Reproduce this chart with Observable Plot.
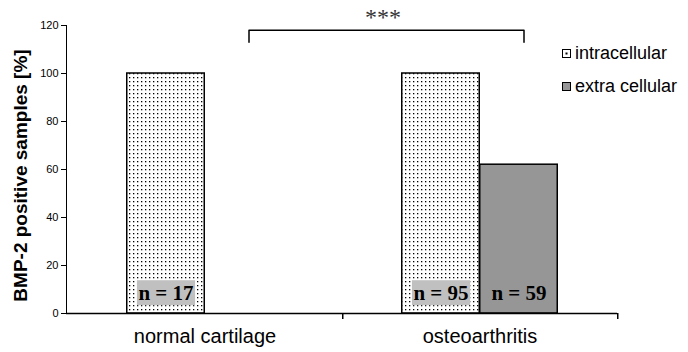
<!DOCTYPE html>
<html><head><meta charset="utf-8">
<script src="https://cdn.jsdelivr.net/npm/d3@7"></script>
<script src="https://cdn.jsdelivr.net/npm/@observablehq/plot@0.6"></script>
<style>
body{margin:0;background:#fff;}
#wrap{position:relative;width:688px;height:352px;font-family:"Liberation Sans",Arial,sans-serif;}
.lg{position:absolute;left:562px;font-size:18px;color:#000;display:flex;align-items:center;height:20px;white-space:nowrap;}
.lg svg{margin-right:4px;display:block}
</style></head><body><div id="wrap"></div>
<script>
const categories = ["normal cartilage", "osteoarthritis"];
const seriesNames = ["intracellular", "extra cellular"];
const intracellular = [100, 100];
const extraCellular = [null, 62];
const nIntracellular = ["n = 17", "n = 95"];
const nExtraCellular = [null, "n = 59"];
const yTicks = [0, 20, 40, 60, 80, 100, 120];
const yLabel = "BMP-2 positive samples [%]";
const significance = "***";
const bracketPair = ["normal cartilage", "osteoarthritis"];
const bracketLevels = [113, 118];

const intraRows = categories.map((c, i) => ({category: c, value: intracellular[i], n: nIntracellular[i]}));
const extraRows = categories.map((c, i) => ({category: c, value: extraCellular[i], n: nExtraCellular[i]})).filter(d => d.value != null);
const bracket = [
  {category: bracketPair[0], y: bracketLevels[0]},
  {category: bracketPair[0], y: bracketLevels[1]},
  {category: bracketPair[1], y: bracketLevels[1]},
  {category: bracketPair[1], y: bracketLevels[0]}
];
const sigRows = [{category: bracketPair[0], y: bracketLevels[1], label: significance}];

const W = 688, H = 352, mL = 66, mR = 71, mT = 25, mB = 39;
const band = (W - mL - mR) / categories.length;
const half = band / 2;
const barW = 78;
const serif = "Liberation Serif, Times New Roman, serif";

const defs = () => {
  const d = d3.create("svg:defs");
  const p = d.append("pattern").attr("id", "dots").attr("patternUnits", "userSpaceOnUse").attr("width", 4).attr("height", 4);
  p.append("rect").attr("width", 4).attr("height", 4).attr("fill", "#fff");
  p.append("rect").attr("x", 1).attr("y", 1).attr("width", 1.3).attr("height", 1.3).attr("fill", "#000");
  return d.node();
};

const chart = Plot.plot({
  width: W, height: H, marginLeft: mL, marginRight: mR, marginTop: mT, marginBottom: mB,
  style: {fontFamily: "Liberation Sans, Arial, sans-serif", fontSize: "11px", color: "#000", background: "#fff", overflow: "visible"},
  x: {domain: categories, padding: 0, axis: null},
  y: {domain: [0, 120], ticks: yTicks, tickSize: 5, tickPadding: 3, line: true, label: null},
  marks: [
    defs,
    Plot.barY(intraRows, {x: "category", y: "value", fill: "url(#dots)", stroke: "#000", strokeWidth: 1.5, insetLeft: half - barW, insetRight: half}),
    Plot.barY(extraRows, {x: "category", y: "value", fill: "#969696", stroke: "#000", strokeWidth: 1.5, insetLeft: half, insetRight: half - barW}),
    Plot.ruleY([0], {stroke: "#000", strokeWidth: 1.5}),
    Plot.ruleX(categories, {x: d => d, y1: 0, y2: 0, dx: half, insetBottom: -6, stroke: "#000", strokeWidth: 1.5}),
    Plot.text(intraRows, {x: "category", y: 0, text: "n", dx: -barW / 2, dy: -20.5, fontFamily: serif, fontWeight: "bold", fontSize: 21, fill: "#000"}),
    Plot.text(extraRows, {x: "category", y: 0, text: "n", dx: barW / 2, dy: -20.5, fontFamily: serif, fontWeight: "bold", fontSize: 21, fill: "#000"}),
    Plot.line(bracket, {x: "category", y: "y", dx: 44, stroke: "#000", strokeWidth: 1.5}),
    Plot.text(sigRows, {x: "category", y: "y", text: "label", dx: 178, dy: -13, fontFamily: serif, fontSize: 24, fill: "#333"}),
    Plot.text(categories, {x: d => d, frameAnchor: "bottom", lineAnchor: "top", dy: 15, fontSize: 20, fill: "#000"}),
    Plot.text([yLabel], {frameAnchor: "left", textAnchor: "middle", rotate: -90, dx: -46, dy: 6, fontSize: 19, fontWeight: "bold", fill: "#000"})
  ]
});

const wrap = document.getElementById("wrap");
wrap.appendChild(chart);

// grey label boxes behind intracellular n labels
d3.select(chart).selectAll("text").filter(function() {
  return nIntracellular.includes(this.textContent);
}).each(function() {
  const b = this.getBBox();
  const t = this.getAttribute("transform");
  const r = document.createElementNS("http://www.w3.org/2000/svg", "rect");
  r.setAttribute("x", b.x - 1.5); r.setAttribute("y", b.y - 0.5);
  r.setAttribute("width", b.width + 3); r.setAttribute("height", b.height + 1);
  r.setAttribute("fill", "#c0c0c0");
  if (t) r.setAttribute("transform", t);
  this.parentNode.insertBefore(r, this);
});

// legend
const legendTops = [43, 76];
seriesNames.forEach((name, i) => {
  const item = document.createElement("div");
  item.className = "lg";
  item.style.top = legendTops[i] + "px";
  const sw = i === 0
    ? '<svg width="9" height="9"><rect x="0.5" y="0.5" width="8" height="8" fill="#fff" stroke="#000"/><rect x="3.5" y="3.5" width="2" height="2" fill="#000"/></svg>'
    : '<svg width="9" height="9"><rect x="0.5" y="0.5" width="8" height="8" fill="#969696" stroke="#000"/></svg>';
  item.innerHTML = sw + "<span>" + name + "</span>";
  wrap.appendChild(item);
});
</script></body></html>
